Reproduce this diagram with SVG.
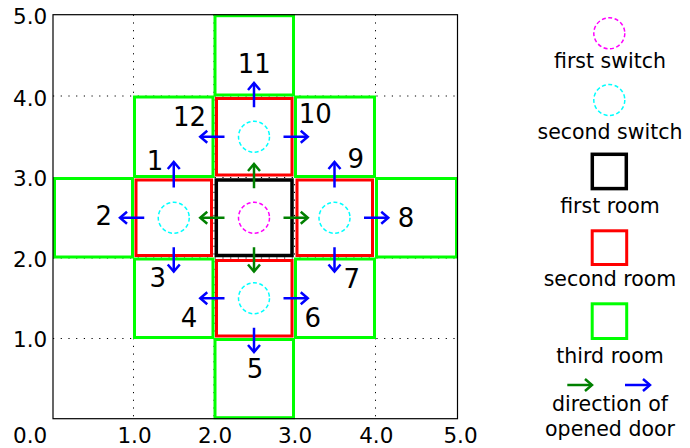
<svg xmlns="http://www.w3.org/2000/svg" width="690" height="448" viewBox="0 0 690 448">
<defs>
<marker id="hb" markerUnits="userSpaceOnUse" markerWidth="20" markerHeight="20" viewBox="-10 -10 20 20" refX="0" refY="0" orient="auto">
<path d="M-7,-6 L0,0 L-7,6" fill="none" stroke="#0000ff" stroke-width="2.5"/>
</marker>
<marker id="hg" markerUnits="userSpaceOnUse" markerWidth="20" markerHeight="20" viewBox="-10 -10 20 20" refX="0" refY="0" orient="auto">
<path d="M-7,-6 L0,0 L-7,6" fill="none" stroke="#008000" stroke-width="2.5"/>
</marker>
</defs>
<style>
.grid{stroke:#000;stroke-width:1;stroke-dasharray:1.2,6.5;fill:none}
.g3{fill:none;stroke:#00ff00;stroke-width:3}
.r2{fill:none;stroke:#ff0000;stroke-width:3}
.b1{fill:none;stroke:#000;stroke-width:3.5}
.sw1{fill:none;stroke:#ff00ff;stroke-width:1.5;stroke-dasharray:4,2.5}
.sw2{fill:none;stroke:#00ffff;stroke-width:1.5;stroke-dasharray:4,2.5}
.ab{stroke:#0000ff;stroke-width:2.5;fill:none;marker-end:url(#hb)}
.ag{stroke:#008000;stroke-width:2.5;fill:none;marker-end:url(#hg)}
text{font-family:"DejaVu Sans","Liberation Sans",sans-serif;fill:#000}
.tk{font-size:21.5px}
.num{font-size:26px;text-anchor:middle}
.lg{font-size:20.5px;text-anchor:middle}
</style>
<rect width="690" height="448" fill="#fff"/>
<g id="grid">
<line class="grid" x1="133.5" y1="14.7" x2="133.5" y2="418.7"/>
<line class="grid" x1="214" y1="14.7" x2="214" y2="418.7"/>
<line class="grid" x1="294.5" y1="14.7" x2="294.5" y2="418.7"/>
<line class="grid" x1="375.5" y1="14.7" x2="375.5" y2="418.7"/>
<line class="grid" x1="53" y1="96" x2="457.5" y2="96"/>
<line class="grid" x1="53" y1="177.5" x2="457.5" y2="177.5"/>
<line class="grid" x1="53" y1="258" x2="457.5" y2="258"/>
<line class="grid" x1="53" y1="338.5" x2="457.5" y2="338.5"/>
</g>
<g id="third-rooms">
<rect class="g3" x="215" y="15.7" width="78.5" height="79.3"/>
<rect class="g3" x="134.5" y="97" width="78.5" height="79.5"/>
<rect class="g3" x="295.5" y="97" width="79" height="79.5"/>
<rect class="g3" x="54.5" y="178.5" width="78" height="78.5"/>
<rect class="g3" x="376.5" y="178.5" width="80" height="78.5"/>
<rect class="g3" x="134.5" y="259" width="78.5" height="78.5"/>
<rect class="g3" x="295.5" y="259" width="79" height="78.5"/>
<rect class="g3" x="215" y="339.5" width="78.5" height="78.2"/>
</g>
<g id="second-rooms">
<rect class="r2" x="216.5" y="98.5" width="75.5" height="76.5"/>
<rect class="r2" x="136" y="180" width="75.5" height="75.5"/>
<rect class="r2" x="297" y="180" width="75.5" height="75.5"/>
<rect class="r2" x="216.5" y="260.5" width="75.5" height="75.5"/>
</g>
<g id="first-room">
<rect class="b1" x="216.3" y="180" width="75.7" height="75.5"/>
</g>
<g id="switches">
<circle class="sw1" cx="254" cy="217.75" r="15.5"/>
<circle class="sw2" cx="254" cy="136.75" r="15.5"/>
<circle class="sw2" cx="173.75" cy="217.75" r="15.5"/>
<circle class="sw2" cx="334.5" cy="217.75" r="15.5"/>
<circle class="sw2" cx="254" cy="298.25" r="15.5"/>
</g>
<g id="connectors">
<line class="ag" x1="254" y1="188.25" x2="254" y2="164"/>
<line class="ag" x1="254" y1="247.25" x2="254" y2="271.5"/>
<line class="ag" x1="224.5" y1="217.75" x2="200.25" y2="217.75"/>
<line class="ag" x1="283.5" y1="217.75" x2="307.75" y2="217.75"/>
<line class="ab" x1="254" y1="107.25" x2="254" y2="83"/>
<line class="ab" x1="224.5" y1="136.75" x2="200.25" y2="136.75"/>
<line class="ab" x1="283.5" y1="136.75" x2="307.75" y2="136.75"/>
<line class="ab" x1="173.75" y1="187.5" x2="173.75" y2="162"/>
<line class="ab" x1="144.25" y1="217.75" x2="120" y2="217.75"/>
<line class="ab" x1="173.75" y1="247.25" x2="173.75" y2="271.5"/>
<line class="ab" x1="334.5" y1="187.5" x2="334.5" y2="162"/>
<line class="ab" x1="364" y1="217.75" x2="388.25" y2="217.75"/>
<line class="ab" x1="334.5" y1="247.25" x2="334.5" y2="271.5"/>
<line class="ab" x1="224.5" y1="298.25" x2="200.25" y2="298.25"/>
<line class="ab" x1="283.5" y1="298.25" x2="307.75" y2="298.25"/>
<line class="ab" x1="254" y1="327.75" x2="254" y2="352"/>
</g>
<g id="door-labels">
<text class="num" x="155" y="170">1</text>
<text class="num" x="103.7" y="225">2</text>
<text class="num" x="157.8" y="287">3</text>
<text class="num" x="189" y="326.7">4</text>
<text class="num" x="255" y="378">5</text>
<text class="num" x="312.8" y="327">6</text>
<text class="num" x="351.7" y="288">7</text>
<text class="num" x="406" y="227">8</text>
<text class="num" x="355.8" y="168">9</text>
<text class="num" x="315.3" y="123.3">10</text>
<text class="num" x="254.3" y="72.7">11</text>
<text class="num" x="189.5" y="126">12</text>
</g>
<g id="axes">
<rect x="53" y="14.7" width="404.5" height="404" fill="none" stroke="#000" stroke-width="1.2"/>
<g class="tk" text-anchor="end">
<text x="47.3" y="24">5.0</text>
<text x="47.3" y="105.5">4.0</text>
<text x="47.3" y="186">3.0</text>
<text x="47.3" y="266.5">2.0</text>
<text x="47.3" y="346.5">1.0</text>
<text x="47.3" y="442.8">0.0</text>
</g>
<g class="tk" text-anchor="middle">
<text x="134.5" y="442.8">1.0</text>
<text x="215" y="442.8">2.0</text>
<text x="295" y="442.8">3.0</text>
<text x="376.3" y="442.8">4.0</text>
<text x="460.5" y="442.8">5.0</text>
</g>
</g>
<g id="legend">
<circle class="sw1" cx="609.3" cy="33.3" r="15.5"/>
<text class="lg" x="610" y="68">first switch</text>
<circle class="sw2" cx="609.3" cy="100" r="15.5"/>
<text class="lg" x="610" y="139">second switch</text>
<rect class="b1" x="592.3" y="154.3" width="34" height="34.3"/>
<text class="lg" x="610" y="213">first room</text>
<rect class="r2" x="592.2" y="230.8" width="34.5" height="33.7"/>
<text class="lg" x="610" y="286">second room</text>
<rect class="g3" x="592.2" y="303.8" width="34.5" height="34.7"/>
<text class="lg" x="610" y="363">third room</text>
<line class="ag" x1="567.3" y1="385" x2="592" y2="385"/>
<line class="ab" x1="625" y1="385" x2="650" y2="385"/>
<text class="lg" x="610" y="411">direction of</text>
<text class="lg" x="610" y="436">opened door</text>
</g>
</svg>
